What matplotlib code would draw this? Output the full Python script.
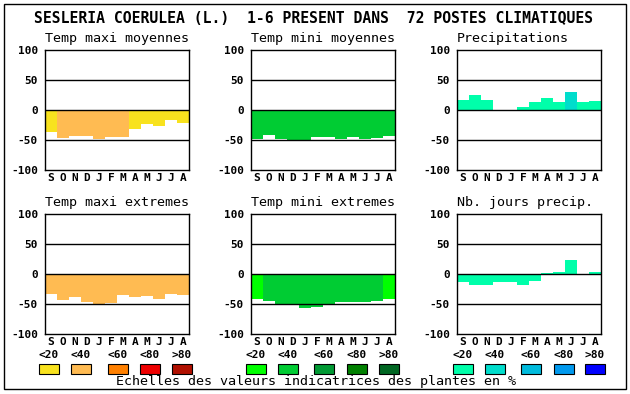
import matplotlib
matplotlib.use("Agg")
import matplotlib.pyplot as plt
from matplotlib.patches import Rectangle

W, H = 630, 394

title = "SESLERIA COERULEA (L.)  1-6 PRESENT DANS  72 POSTES CLIMATIQUES"
footer = "Echelles des valeurs indicatrices des plantes en %"
months = ["S", "O", "N", "D", "J", "F", "M", "A", "M", "J", "J", "A"]
yticks = [-100, -50, 0, 50, 100]
ytick_labels = ["-100", "-50", "0", "50", "100"]
scale_labels = ["<20", "<40", "<60", "<80", ">80"]

warm = ["#F8E21E", "#FFBB52", "#FF8000", "#EE0000", "#B01000"]
green = ["#00FF00", "#00CC33", "#009933", "#008000", "#006622"]
blue = ["#00FFAA", "#00DDCC", "#00BBDD", "#0099EE", "#0000FF"]

titles = ["Temp maxi moyennes", "Temp mini moyennes", "Precipitations",
          "Temp maxi extremes", "Temp mini extremes", "Nb. jours precip."]

tmax_moy = [-36, -46, -43, -43, -48, -45, -45, -32, -23, -26, -17, -21]
tmax_moy_cls = [0, 1, 1, 1, 1, 1, 1, 0, 0, 0, 0, 0]
tmin_moy = [-48, -42, -48, -50, -50, -45, -45, -48, -45, -48, -47, -43]
tmin_moy_cls = [1] * 12
precip = [17, 25, 17, 0, 0, 5, 13, 20, 13, 30, 13, 15]
precip_cls = [0, 0, 0, 0, 0, 0, 0, 0, 0, 1, 0, 0]
tmax_ext = [-33, -43, -38, -47, -50, -48, -35, -38, -37, -42, -33, -35]
tmax_ext_cls = [1] * 12
tmin_ext = [-42, -45, -50, -50, -57, -55, -50, -47, -47, -47, -45, -42]
tmin_ext_cls = [0, 1, 1, 1, 1, 1, 1, 1, 1, 1, 1, 0]
jours = [-13, -18, -18, -14, -14, -18, -11, 2, 3, 23, 0, 3]
jours_cls = [0] * 12

panels = [
    (tmax_moy, tmax_moy_cls, warm),
    (tmin_moy, tmin_moy_cls, green),
    (precip, precip_cls, blue),
    (tmax_ext, tmax_ext_cls, warm),
    (tmin_ext, tmin_ext_cls, green),
    (jours, jours_cls, blue),
]

col_x = [45, 251, 457]
row_y = [50, 214]
pw, ph = 144, 120

fig = plt.figure(figsize=(W / 100, H / 100), dpi=100)
fig.patch.set_facecolor("white")

ov = fig.add_axes([0, 0, 1, 1])
ov.set_xlim(0, W)
ov.set_ylim(H, 0)
ov.axis("off")

mono = "DejaVu Sans Mono"

ov.add_patch(Rectangle((4, 4), 622, 385, fill=False, ec="black", lw=1.0))
ov.text(314, 23, title, ha="center", va="baseline", fontsize=10.6,
        family=mono, fontweight="bold")

for i, (vals, cls, pal) in enumerate(panels):
    r, c = divmod(i, 3)
    x0, y0 = col_x[c], row_y[r]
    ax = fig.add_axes([x0 / W, 1 - (y0 + ph) / H, pw / W, ph / H])
    xs = list(range(12))
    ax.bar(xs, vals, width=1.0, color=[pal[k] for k in cls], lw=0, zorder=2)
    for yv in (-50, 0, 50):
        ax.axhline(yv, color="black", lw=1.0, zorder=3)
    ax.set_xlim(-0.5, 11.5)
    ax.set_ylim(-100, 100)
    ax.set_xticks(xs)
    ax.set_xticklabels(months, family=mono, fontweight="bold", fontsize=8)
    ax.set_yticks(yticks)
    ax.set_yticklabels(ytick_labels, family=mono, fontweight="bold", fontsize=8)
    ax.tick_params(axis="x", length=0, pad=2)
    ax.tick_params(axis="y", length=0, pad=5)
    for s in ax.spines.values():
        s.set_linewidth(1.0)
    ov.text(x0, y0 - 8, titles[i], ha="left", va="baseline", fontsize=9.6,
            family=mono)

box_lefts = [[39, 71, 108, 140, 172], [246, 278, 314, 347, 379],
             [453, 485, 521, 554, 585]]
for pal, lefts in zip([warm, green, blue], box_lefts):
    for col, lab, bx in zip(pal, scale_labels, lefts):
        ov.add_patch(Rectangle((bx, 364), 20, 10, fc=col, ec="black", lw=0.8))
        ov.text(bx + 10, 355, lab, ha="center", va="center", fontsize=8,
                family=mono, fontweight="bold")

ov.text(316, 382, footer, ha="center", va="center", fontsize=9.6, family=mono)

fig.savefig("out.png", dpi=100, facecolor="white")
